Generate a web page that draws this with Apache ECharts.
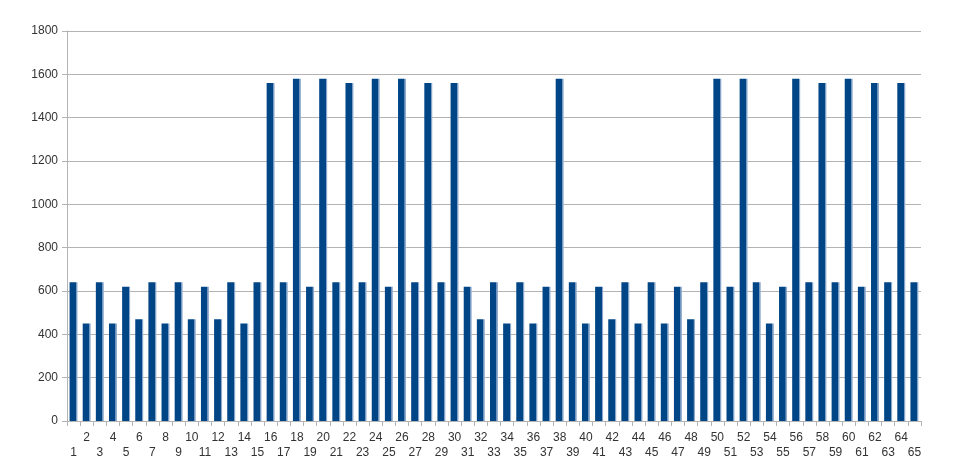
<!DOCTYPE html>
<html>
<head>
<meta charset="utf-8">
<script src="https://cdn.jsdelivr.net/npm/echarts@6/dist/echarts.min.js"></script>
<style>
    html, body { margin: 0; padding: 0; background: #fff; }
    #chart { width: 953px; height: 476px; }
</style>
</head>
<body>
<div id="chart"></div>
<script>
// values, one per bar (1..65)
const categories = [];
for (let i = 1; i <= 65; i++) categories.push(String(i));

const values = [
    640, 450, 640, 450, 620, 470, 640, 450, 640, 470,
    620, 470, 640, 450, 640, 1560, 640, 1580, 620, 1580,
    640, 1560, 640, 1580, 620, 1580, 640, 1560, 640, 1560,
    620, 470, 640, 450, 640, 450, 620, 1580, 640, 450,
    620, 470, 640, 450, 640, 450, 620, 470, 640, 1580,
    620, 1580, 640, 450, 620, 1580, 640, 1560, 640, 1580,
    620, 1560, 640, 1560, 640
];

const yTicks = { min: 0, max: 1800, interval: 200 };

const chart = echarts.init(document.getElementById('chart'));

const option = {
    animation: false,
    grid: { left: 67, right: 32, top: 31, bottom: 55 },
    xAxis: {
        type: 'category',
        data: categories,
        axisLine: { lineStyle: { color: '#b3b3b3', width: 1 } },
        axisTick: { show: true, interval: 0, length: 5, lineStyle: { color: '#b3b3b3' } },
        axisLabel: {
            interval: 0,
            color: '#333',
            fontFamily: 'Liberation Sans, Arial, sans-serif',
            fontSize: 12,
            margin: 9,
            lineHeight: 15,
            // odd numbers drop to a second row, like the staggered labels in the picture
            formatter: (v) => (Number(v) % 2 === 1 ? '\n' + v : v)
        },
        splitLine: { show: false }
    },
    yAxis: {
        type: 'value',
        min: yTicks.min,
        max: yTicks.max,
        interval: yTicks.interval,
        axisLine: { show: true, lineStyle: { color: '#b3b3b3' } },
        axisTick: { show: true, length: 5, lineStyle: { color: '#b3b3b3' } },
        axisLabel: {
            color: '#333',
            fontFamily: 'Liberation Sans, Arial, sans-serif',
            fontSize: 12,
            margin: 9,
            formatter: (v) => String(v)
        },
        splitLine: { lineStyle: { color: '#b3b3b3', width: 1 } }
    },
    series: [
        {
            type: 'bar',
            data: values,
            barWidth: 8,
            itemStyle: {
                color: new echarts.graphic.LinearGradient(0, 0, 1, 0, [
                    { offset: 0, color: '#004586' },
                    { offset: 0.8, color: '#004586' },
                    { offset: 0.81, color: '#6f93bd' },
                    { offset: 1, color: '#9fb8d6' }
                ])
            }
        }
    ]
};

chart.setOption(option);
</script>
</body>
</html>
